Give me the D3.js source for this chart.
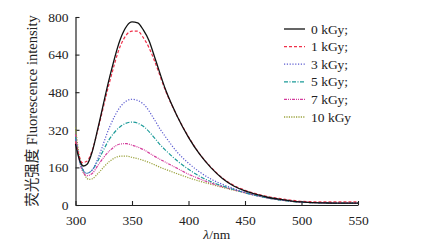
<!DOCTYPE html>
<html>
<head>
<meta charset="utf-8">
<script src="https://cdn.jsdelivr.net/npm/d3@7"></script>
<style>
  body { margin: 0; background: #fff; }
  svg text { font-family: "Liberation Serif", "Noto Sans CJK SC", serif; fill: #222; }
</style>
</head>
<body>
<svg id="chart" width="422" height="246"></svg>
<script>
// Wavelength ticks and intensity ticks
const xTicks = [300, 350, 400, 450, 500, 550];
const yTicks = [0, 160, 320, 480, 640, 800];

const labels = ["0 kGy;", "1 kGy;", "3 kGy;", "5 kGy;", "7 kGy;", "10 kGy"];

// [wavelength nm, intensity]
const dose0 = [[300,260],[303,200],[307,166],[310,172],[315,230],[320,330],[330,540],[340,710],[350,779],[355,775],[360,745],[365,700],[370,630],[380,487],[390,378],[400,288],[410,215],[420,158],[430,113],[440,81],[450,60],[460,45],[470,33],[480,25],[490,18],[500,13],[510,10],[520,9],[530,8],[540,8],[550,8]];
const dose1 = [[300,270],[303,212],[306,180],[310,186],[315,235],[320,325],[330,520],[340,680],[350,740],[355,740],[360,712],[365,670],[370,612],[380,482],[390,378],[400,290],[410,217],[420,160],[430,115],[440,84],[450,63],[460,48],[470,36],[480,28],[490,21],[500,16],[510,14],[520,13],[530,13],[540,13],[550,14]];
const dose3 = [[300,280],[305,170],[310,135],[315,150],[320,200],[330,330],[340,420],[350,450],[360,430],[370,362],[375,322],[380,288],[390,225],[400,178],[410,140],[420,110],[430,88],[440,70],[450,54],[460,41],[470,31],[480,23],[490,17],[500,12],[510,10],[520,9],[530,8],[540,8],[550,8]];
const dose5 = [[300,290],[305,165],[310,135],[315,150],[320,190],[330,280],[340,335],[350,353],[360,335],[370,285],[375,256],[380,232],[390,188],[400,152],[410,122],[420,99],[430,81],[440,66],[450,52],[460,40],[470,30],[480,22],[490,16],[500,12],[510,10],[520,9],[530,8],[540,8],[550,8]];
const dose7 = [[300,300],[305,158],[310,125],[315,135],[320,170],[330,230],[340,260],[345,261],[350,255],[360,236],[370,207],[375,194],[380,181],[390,156],[400,131],[410,111],[420,93],[430,78],[440,65],[450,52],[460,40],[470,30],[480,22],[490,16],[500,12],[510,10],[520,9],[530,8],[540,8],[550,8]];
const dose10 = [[300,330],[305,170],[312,109],[315,112],[320,135],[330,185],[340,208],[345,208],[350,203],[360,190],[370,171],[375,160],[380,151],[390,133],[400,116],[410,101],[420,88],[430,75],[440,63],[450,52],[460,40],[470,30],[480,22],[490,16],[500,12],[510,10],[520,9],[530,8],[540,8],[550,8]];

const series = [dose0, dose1, dose3, dose5, dose7, dose10];
const colors = ["#111111", "#f0304a", "#5a5ad0", "#1a9a98", "#d43c9c", "#9aa23c"];
const dashes = [null, "3,2", "1.2,1.6", "4,1.5,1,1.5", "3,1,1,1,1,1", "1.2,1.2"];

const fontStack = '"Liberation Serif", "Noto Sans CJK SC", serif';

const svg = d3.select("#chart");
const margin = { top: 17, left: 75.5, right: 64, bottom: 41 };
const width = +svg.attr("width"), height = +svg.attr("height");

const x = d3.scaleLinear().domain([300, 550]).range([margin.left, width - margin.right]);
const y = d3.scaleLinear().domain([0, 800]).range([height - margin.bottom, margin.top]);

// axes, ticks inward
const xAxis = svg.append("g")
  .attr("transform", `translate(0,${y(0)})`)
  .call(d3.axisBottom(x).tickValues(xTicks).tickSizeInner(-4).tickSizeOuter(0).tickPadding(8));
const yAxis = svg.append("g")
  .attr("transform", `translate(${x(300)},0)`)
  .call(d3.axisLeft(y).tickValues(yTicks).tickSizeInner(-4).tickSizeOuter(0).tickPadding(7));

[xAxis, yAxis].forEach(a => {
  a.attr("font-family", fontStack);
  a.select(".domain").attr("stroke", "#222").attr("stroke-width", 1.2);
  a.selectAll(".tick line").attr("stroke", "#222").attr("stroke-width", 1.1);
  a.selectAll(".tick text").style("font-size", "13.5px").attr("fill", "#222");
});
xAxis.selectAll(".tick text").attr("dy", "0.9em");

// x title
svg.append("text")
  .attr("x", (x(300) + x(550)) / 2)
  .attr("y", 239)
  .attr("text-anchor", "middle")
  .style("font-size", "13.5px")
  .html('<tspan font-style="italic">λ</tspan>/nm');

// y title
svg.append("text")
  .attr("transform", `translate(37,${(y(0) + y(800)) / 2}) rotate(-90)`)
  .attr("text-anchor", "middle")
  .style("font-size", "14.5px")
  .text("荧光强度 Fluorescence intensity");

const line = d3.line()
  .x(d => x(d[0]))
  .y(d => y(d[1]))
  .curve(d3.curveMonotoneX);

// draw in reverse so the black curve sits on top
series.slice().reverse().forEach((s, ri) => {
  const i = series.length - 1 - ri;
  svg.append("path")
    .datum(s)
    .attr("fill", "none")
    .attr("stroke", colors[i])
    .attr("stroke-width", i === 0 ? 1.3 : 1.2)
    .attr("stroke-dasharray", dashes[i])
    .attr("d", line);
});

// legend
const legend = svg.append("g");
labels.forEach((lab, i) => {
  const ly = 29 + i * 17.6;
  legend.append("line")
    .attr("x1", 284).attr("x2", 305)
    .attr("y1", ly).attr("y2", ly)
    .attr("stroke", colors[i])
    .attr("stroke-width", 1.3)
    .attr("stroke-dasharray", dashes[i]);
  legend.append("text")
    .attr("x", 311)
    .attr("y", ly + 4.5)
    .style("font-size", "13.5px")
    .text(lab);
});
</script>
</body>
</html>
